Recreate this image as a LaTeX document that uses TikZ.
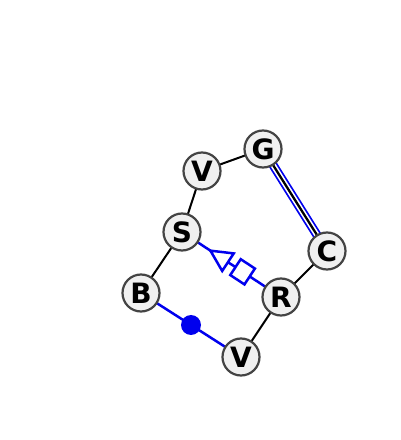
\documentclass[tikz,border=0pt]{standalone}
\usepackage{fontspec}
\setmainfont{DejaVu Sans}
\usetikzlibrary{backgrounds,calc}
\definecolor{nodefill}{HTML}{F0F0F0}
\definecolor{nodeline}{HTML}{444444}
\definecolor{bondblue}{HTML}{0000EE}
\tikzset{
  base/.style={circle, minimum size=37pt, inner sep=0pt, fill=nodefill, draw=nodeline, line width=2.2pt, font=\fontsize{28}{28}\selectfont\bfseries},
  plain/.style={line width=2pt, black},
  blueline/.style={line width=2.5pt, bondblue},
  shapeblue/.style={line width=2.5pt, draw=bondblue, fill=white, line join=miter}
}
\begin{document}
\begin{tikzpicture}[x=1pt,y=1pt]
\useasboundingbox (0,0) rectangle (400,440);
\node[base] (G) at (263,291) {G};
\node[base] (V1) at (202,269) {V};
\node[base] (S) at (182,208) {S};
\node[base] (B) at (141,147) {B};
\node[base] (V2) at (241,83) {V};
\node[base] (R) at (281,143) {R};
\node[base] (C) at (327,189) {C};
\coordinate (M) at ($(B)!0.5!(V2)$);
\begin{pgfonlayer}{background}
\fill[white] (0,0) rectangle (400,440);
\draw[plain] (V1.center) -- (G.center);
\draw[plain] (V1.center) -- (S.center);
\draw[plain] (S.center) -- (B.center);
\draw[plain] (V2.center) -- (R.center);
\draw[plain] (R.center) -- (C.center);
\draw[bondblue, line width=9pt] (G.center) -- (C.center);
\draw[white, line width=5.5pt] (G.center) -- (C.center);
\draw[black, line width=2.3pt] (G.center) -- (C.center);
\draw[blueline] (B.center) -- (V2.center);
\fill[bondblue] (M) circle (10pt);
\draw[blueline] (S.center) -- (R.center);
\begin{scope}[shift={(S.center)}, rotate=-33.3]
\draw[shapeblue] (34,0) -- (55,10.5) -- (55,-10.5) -- cycle;
\draw[shapeblue] (64,-9.5) rectangle (81,9.5);
\end{scope}
\end{pgfonlayer}
\end{tikzpicture}
\end{document}
